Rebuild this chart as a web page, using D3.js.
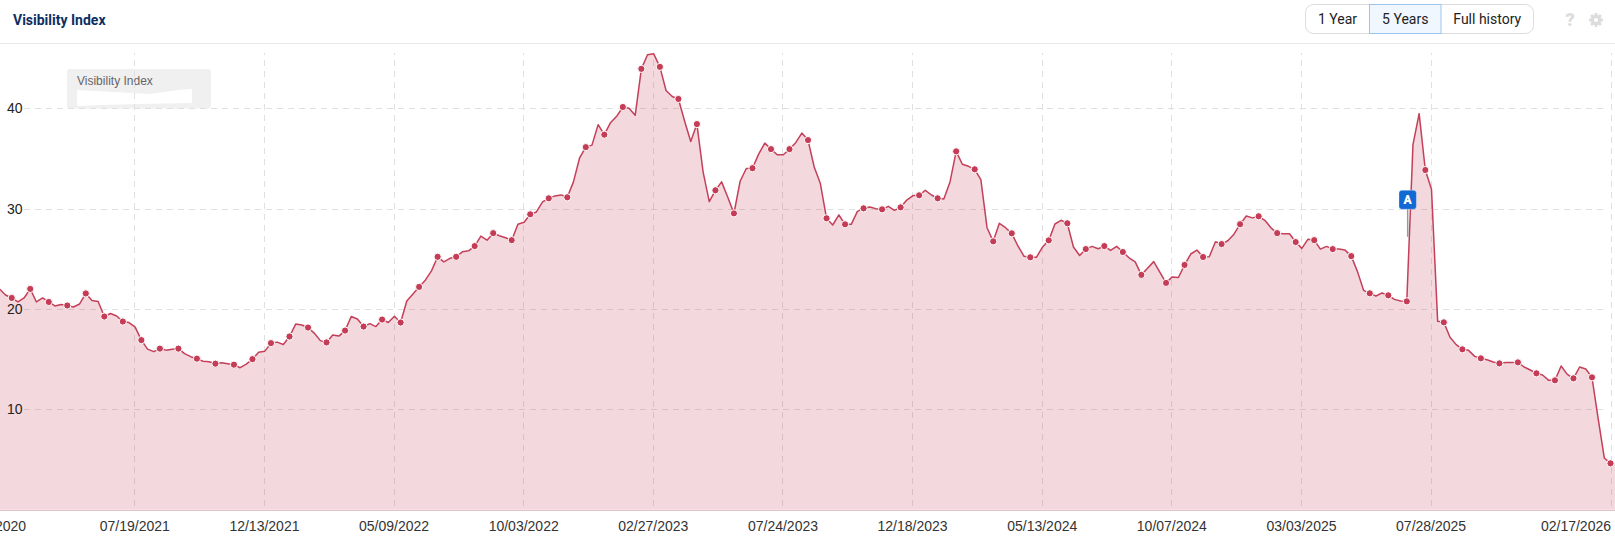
<!DOCTYPE html>
<html>
<head>
<meta charset="utf-8">
<script src="https://cdn.jsdelivr.net/npm/d3@7/dist/d3.min.js"></script>
<style>
html,body{margin:0;padding:0;background:#fff;overflow:hidden}
svg{display:block}
</style>
</head>
<body>
<svg id="chart" width="1615" height="544"></svg>
<script>
const title = "Visibility Index";
const rangeButtons = ["1 Year", "5 Years", "Full history"];
const selectedButton = "5 Years";
const firstWeek = "02/09/2021";
const lastWeek = "02/17/2026";
const yTicks = [10, 20, 30, 40];
const tickDates = ["02/06/2021","07/19/2021","12/13/2021","05/09/2022","10/03/2022","02/27/2023","07/24/2023","12/18/2023","05/13/2024","10/07/2024","03/03/2025","07/28/2025","02/17/2026"];
const tickLabels = ["12/28/2020","07/19/2021","12/13/2021","05/09/2022","10/03/2022","02/27/2023","07/24/2023","12/18/2023","05/13/2024","10/07/2024","03/03/2025","07/28/2025","02/17/2026"];
// Weekly readings; null = a week with no reading
const visibility = [
22.6,22.0,21.4,21.1,20.7,21.1,22.0,20.7,21.1,20.7,20.3,20.45,20.35,20.2,20.5,21.55,20.85,20.75,19.25,19.55,
19.3,18.75,18.65,18.2,16.9,16.0,15.75,16.05,15.9,16.0,16.05,15.55,15.25,15.05,14.8,14.75,14.55,14.65,14.55,14.45,
14.15,14.5,15.0,15.7,15.8,16.6,16.7,16.47,17.26,18.5,18.4,18.15,17.6,16.85,16.67,17.4,17.3,17.85,19.25,19.0,
18.25,18.55,18.25,18.95,18.65,19.27,18.65,20.8,21.5,22.2,22.87,23.8,25.2,24.7,25.05,25.2,25.7,25.8,26.27,27.26,
26.86,27.56,27.3,27.1,26.86,28.45,28.65,29.44,29.67,30.67,31.03,31.27,31.37,31.13,32.67,35.07,36.13,36.33,38.37,37.37,
38.57,39.2,40.13,40.0,39.3,43.93,45.33,45.43,44.13,41.77,41.17,40.93,38.73,36.7,38.43,33.67,30.7,31.83,32.67,31.13,
29.53,32.73,34.0,34.03,35.43,36.53,35.93,35.37,35.37,35.93,36.57,37.53,36.83,34.15,32.5,29.04,28.37,29.37,28.44,28.44,
29.73,30.03,30.17,30.0,29.93,30.23,29.83,30.13,30.86,31.3,31.33,31.83,31.36,31.03,30.96,32.66,35.71,34.42,34.22,33.92,
32.89,28.1,26.74,28.54,28.1,27.54,26.28,25.25,25.15,25.15,26.18,26.84,28.47,28.84,28.54,26.18,25.33,25.97,26.24,26.0,
26.27,25.84,26.24,25.68,25.1,24.7,23.4,24.06,24.72,null,22.6,23.2,23.14,24.39,25.48,25.87,25.18,25.2,26.7,26.47,
26.8,27.46,28.45,29.27,29.08,29.24,28.84,28.09,27.56,27.5,27.5,26.67,26.04,26.96,26.86,25.97,26.24,25.97,25.97,25.87,
25.27,23.75,21.86,21.56,21.3,21.6,21.36,20.96,20.8,20.76,36.38,39.47,33.85,31.93,18.77,18.67,17.18,16.45,15.98,15.88,
15.28,15.08,14.95,14.72,14.58,14.68,14.68,14.68,14.22,13.92,13.59,13.42,12.89,12.89,14.32,13.49,13.09,14.22,14.02,13.19,
9.07,5.15,4.62];
const annotationLabel = "A";
const annotationDate = "07/02/2025";
const annotationValue = 27.2;

const W = 1615, H = 544;
const parse = d3.timeParse("%m/%d/%Y");
const svg = d3.select("#chart").style("font-family","'Liberation Sans',Arial,sans-serif");

const x = d3.scaleTime().domain([parse("07/19/2021"), parse("02/17/2026")]).range([134.3, 1610.5]);
const y = d3.scaleLinear().domain([0, 40]).range([509.7, 108.3]);

const weeks = d3.timeDay.range(parse(firstWeek), d3.timeDay.offset(parse(lastWeek), 1), 7);
const points = visibility.map((v,i)=>({date:weeks[i], value:v})).filter(d=>d.value!==null);

/* header */
svg.append("text").attr("x",13).attr("y",25).text(title)
  .style("font-family","Roboto").style("font-weight",700).style("font-size","14px").attr("fill","#0d2f5f");
svg.append("line").attr("x1",0).attr("x2",W).attr("y1",43.5).attr("y2",43.5).attr("stroke","#e9e9e9");

const btnEdges = [1305.5, 1369.5, 1441, 1533.5];
const btn = svg.append("g");
btn.append("rect").attr("x",btnEdges[0]).attr("y",4.5).attr("width",btnEdges[3]-btnEdges[0]).attr("height",29).attr("rx",8)
  .attr("fill","#fff").attr("stroke","#dcdcdc");
rangeButtons.forEach((b,i)=>{
  if(b===selectedButton){
    btn.append("rect").attr("x",btnEdges[i]).attr("y",4.5).attr("width",btnEdges[i+1]-btnEdges[i]).attr("height",29)
      .attr("fill","#f1f7ff").attr("stroke","#9cc3f0");
  }
  btn.append("text").attr("x",(btnEdges[i]+btnEdges[i+1])/2).attr("y",24).attr("text-anchor","middle")
    .style("font-family","Roboto").style("font-size","14px").attr("fill","#222").text(b);
});
svg.append("text").attr("x",1570).attr("y",26).attr("text-anchor","middle").text("?")
  .style("font-family","Roboto").style("font-weight",900).style("font-size","18px").attr("fill","#dcdcdc");
const gear = svg.append("g").attr("transform","translate(1596,20)");
d3.range(8).forEach(k=>gear.append("line").attr("x1",0).attr("y1",0).attr("x2",0).attr("y2",-7)
  .attr("transform",`rotate(${k*45})`).attr("stroke","#dcdcdc").attr("stroke-width",2.8));
gear.append("circle").attr("r",5.2).attr("fill","#dcdcdc");
gear.append("circle").attr("r",2).attr("fill","#fff");

/* legend box with masked value */
const leg = svg.append("g");
leg.append("rect").attr("x",67).attr("y",69).attr("width",144).attr("height",39.5).attr("rx",3).attr("fill","#f0f0f0");
leg.append("text").attr("x",77).attr("y",84.5).text(title).style("font-size","12px").attr("fill","#666");
leg.append("path").attr("fill","#fff")
  .attr("d","M77 90 L150 94 L178 90 L192 89 L192 103 L140 104 L100 105 L77 106 Z");

/* grid */
const gridColor = "#e0e0e0";
const gx = svg.append("g").attr("transform","translate(0,506)")
  .call(d3.axisBottom(x).tickValues(tickDates.slice(1).map(parse)).tickSize(-453).tickFormat(""));
gx.select(".domain").remove();
gx.selectAll("line").attr("stroke",gridColor).attr("stroke-dasharray","6 5").attr("shape-rendering","crispEdges");
const gy = svg.append("g").attr("transform","translate(24,0)")
  .call(d3.axisRight(y).tickValues(yTicks).tickSize(1584).tickFormat(""));
gy.select(".domain").remove();
gy.selectAll("line").attr("stroke",gridColor).attr("stroke-dasharray","6 5").attr("shape-rendering","crispEdges");

/* area + line + markers */
const areaPoints = points.concat([{date:x.invert(W+2), value:points[points.length-1].value}]);
svg.append("path").datum(areaPoints).attr("fill","rgba(196,60,85,0.2)")
  .attr("d",d3.area().x(d=>x(d.date)).y0(y(0)).y1(d=>y(d.value)));
svg.append("line").attr("x1",0).attr("x2",W).attr("y1",510.5).attr("y2",510.5).attr("stroke","#dfc3c9");
svg.append("path").datum(points).attr("fill","none").attr("stroke","#c4405a").attr("stroke-width",1.5)
  .attr("stroke-linejoin","round")
  .attr("d",d3.line().x(d=>x(d.date)).y(d=>y(d.value)));
svg.append("g").selectAll("circle").data(points.filter((d,i)=>i%3===0)).join("circle")
  .attr("cx",d=>x(d.date)).attr("cy",d=>y(d.value)).attr("r",3.6)
  .attr("fill","#c43c55").attr("stroke","#fff").attr("stroke-width",1);

/* annotation */
const ax = x(parse(annotationDate)), ay = y(annotationValue);
const note = svg.append("g");
note.append("line").attr("x1",ax).attr("x2",ax).attr("y1",ay).attr("y2",ay-30).attr("stroke","#999").attr("stroke-width",1.5);
note.append("rect").attr("x",ax-8.7).attr("y",ay-46.5).attr("width",17.4).attr("height",19).attr("rx",3)
  .attr("fill","#1169d4").attr("stroke","#fff").attr("stroke-opacity",0.3);
note.append("text").attr("x",ax).attr("y",ay-32.8).attr("text-anchor","middle").text(annotationLabel)
  .style("font-family","Roboto").style("font-weight",900).style("font-size","12px").attr("fill","#fff");

/* axes text */
const yAxis = svg.append("g").attr("transform","translate(22.5,0)")
  .call(d3.axisLeft(y).tickValues(yTicks).tickSize(0).tickPadding(0));
yAxis.select(".domain").remove();
yAxis.selectAll("text").style("font-size","14px").style("font-family","'Liberation Sans',Arial,sans-serif").attr("fill","#222");

const xAxis = svg.append("g").attr("transform","translate(0,510)")
  .call(d3.axisBottom(x).tickValues(tickDates.map(parse)).tickSize(0).tickPadding(11)
    .tickFormat((d,i)=>tickLabels[i]));
xAxis.select(".domain").remove();
xAxis.selectAll("text").style("font-size","14px").style("font-family","'Liberation Sans',Arial,sans-serif").attr("fill","#333");
xAxis.selectAll("text").filter((d,i)=>i===tickLabels.length-1).attr("text-anchor","end");
</script>
</body>
</html>
